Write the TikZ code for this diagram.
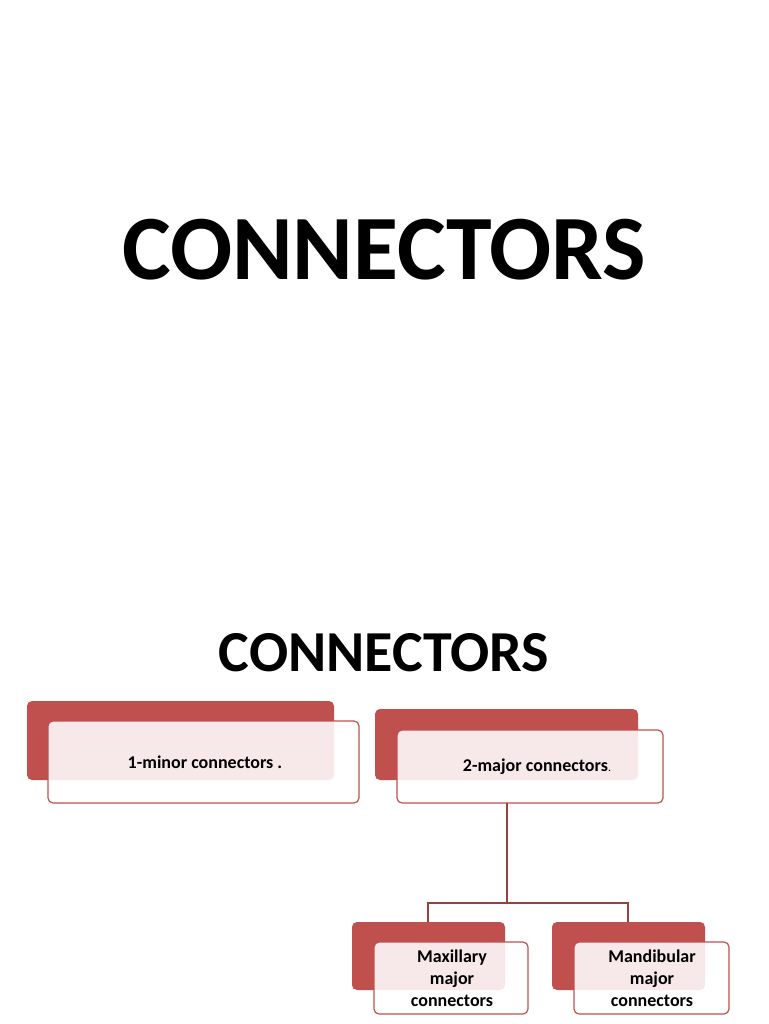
\documentclass[tikz,border=0pt]{standalone}
\usepackage{fontspec}
\setmainfont{Carlito}
\definecolor{dred}{HTML}{C0504D}
\begin{document}
\begin{tikzpicture}[x=1pt,y=-1pt,
  back/.style={fill=dred,rounded corners=5pt},
  front/.style={draw=dred,line width=1.2pt,fill=white,fill opacity=0.88,draw opacity=1,rounded corners=5pt},
  lbl/.style={font=\bfseries\fontsize{18}{22}\selectfont,align=center,text=black},
  link/.style={draw=dred!80!black,line width=1.2pt}]
\useasboundingbox (0,0) rectangle (768,1024);
\node[font=\bfseries\fontsize{92}{100}\selectfont] (t1) at (384,250) {CONNECTORS};
\node[font=\bfseries\fontsize{58}{64}\selectfont] (t2) at (384,653) {CONNECTORS};
% box 1
\fill[back] (27,701) rectangle (334,780);
\draw[front] (48,721) rectangle (359,803);
\node[lbl] (b1) at (205,762) {1-minor connectors .};
% box 2
\fill[back] (375,709) rectangle (638,780);
\draw[front] (397,730) rectangle (663,803);
\node[lbl] (b2) at (537,767) {2-major connectors\textmd{\fontsize{12}{14}\selectfont.}};
% children
\fill[back] (352,922) rectangle (505,990);
\draw[front] (374,942) rectangle (528,1014);
\node[lbl] (b3) at (452,978) {Maxillary\\major\\connectors};
\fill[back] (552,922) rectangle (705,990);
\draw[front] (574,942) rectangle (729,1014);
\node[lbl] (b4) at (652,978) {Mandibular\\major\\connectors};
\coordinate (top) at (507,803);
\coordinate (mid) at (507,903);
\coordinate (l) at (428,903);
\coordinate (r) at (628,903);
\coordinate (lb) at (428,922);
\coordinate (rb) at (628,922);
\draw[link] (top) -- (mid);
\draw[link] (lb) -- (l) -- (r) -- (rb);
\end{tikzpicture}
\end{document}
